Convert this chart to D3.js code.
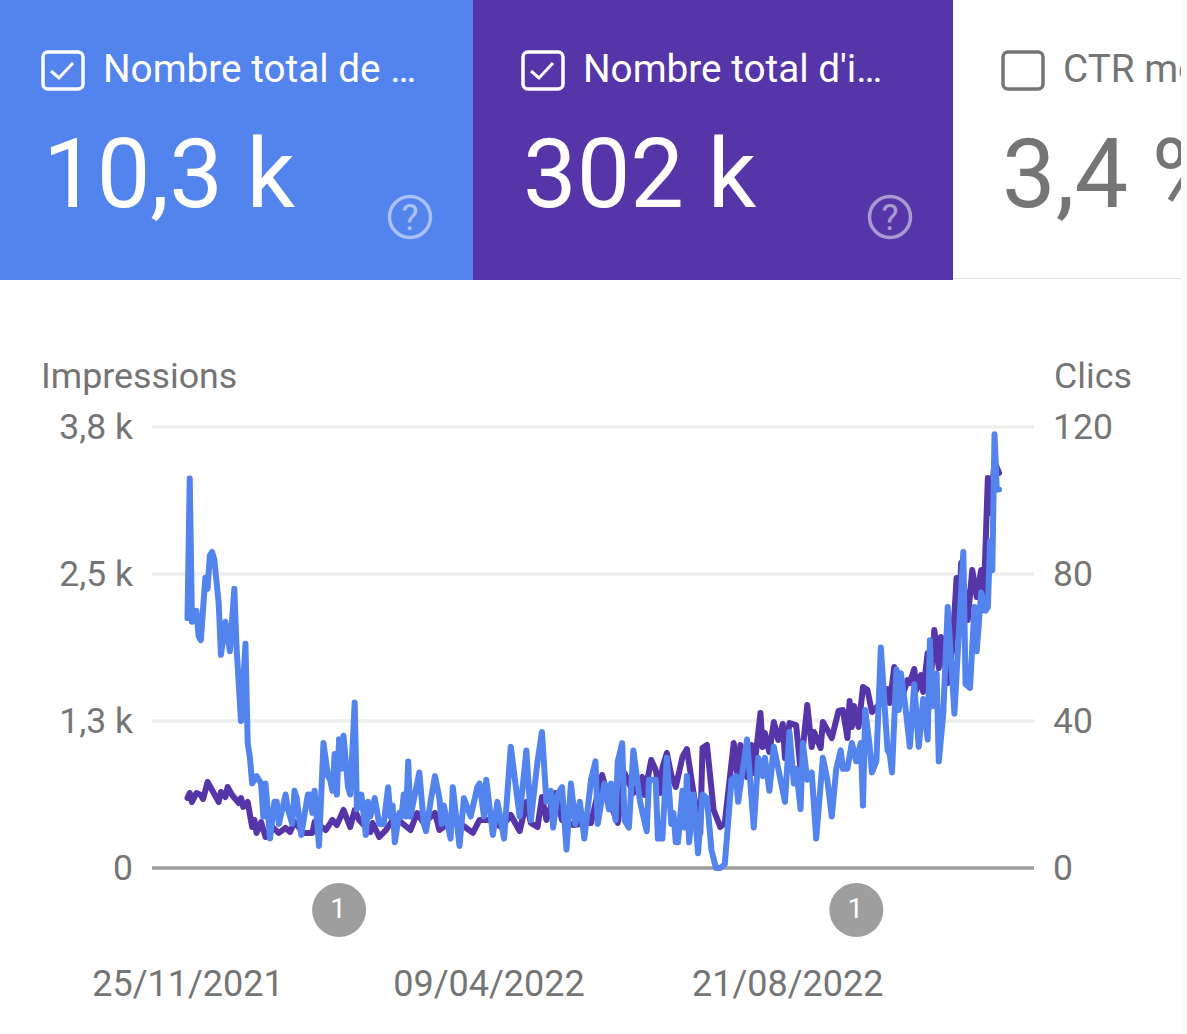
<!DOCTYPE html>
<html>
<head>
<meta charset="utf-8">
<style>
	html, body { margin: 0; padding: 0; background: #fff; overflow: hidden; }
	svg { display: block; font-family: Roboto, sans-serif; }
	.axis .domain { display: none; }
	.axis text { fill: #757575; font-size: 35.5px; font-family: Roboto, sans-serif; }
	.axis.dates text { font-size: 36px; }
</style>
<script src="https://cdnjs.cloudflare.com/ajax/libs/d3/7.8.5/d3.min.js"></script>
</head>
<body>
<div id="chart"></div>
<script>
// daily position, counted from 25/11/2021
var clickDays = [0,1,2,4,5,6,8,9,10,11,12,14,15,17,19,21,22,24,26,27,28,29,31,33,34,35,37,39,40,41,44,45,47,48,49,51,54,55,56,57,59,61,63,64,65,66,67,68,69,70,72,73,75,76,78,80,81,82,84,86,88,90,91,92,93,95,96,97,98,99,100,102,104,106,107,109,111,113,114,115,118,119,122,124,127,130,131,133,134,137,139,142,145,149,152,154,157,159,161,163,164,166,168,170,172,174,176,178,181,183,184,187,189,190,192,193,195,196,198,200,203,206,207,210,211,213,215,217,218,219,220,222,223,224,225,227,229,231,233,235,237,239,241,244,246,247,251,254,256,258,259,261,263,265,268,270,272,273,275,276,278,280,282,285,287,289,291,293,294,296,298,300,302,303,304,306,307,309,311,314,315,316,318,319,320,322,324,326,328,330,332,333,334,336,337,339,341,343,344,346,348,349,351,353,354,356,358,359,360,361,362,363,364];
var clicks = [68,106,67,70,63,62,79,76,85,86,84,72,58,67,59,76,60,40,61,34,30,23,25,23,14,23,8,18,18,12,20,16,12,21,19,9,20,20,15,21,6,34,25,24,21,31,20,35,27,36,22,20,45,16,20,9,18,14,19,12,12,22,14,17,7,15,14,20,14,29,14,20,26,12,10,18,25,19,12,17,8,22,6,19,14,22,23,14,24,9,18,8,33,14,32,13,29,37,18,21,11,20,22,5,23,12,18,8,24,29,12,23,16,23,13,29,34,13,11,32,18,10,24,24,8,8,30,12,15,7,7,21,11,25,7,20,4,20,19,5,0,0,1,24,25,18,35,11,30,25,30,21,33,27,18,37,23,27,16,34,24,26,8,30,24,14,27,32,27,27,34,29,34,17,43,33,26,29,60,32,31,26,54,43,53,44,33,50,33,46,35,62,44,53,29,42,71,52,42,64,86,50,49,71,59,75,70,71,89,81,118,103,103];

var impressionDays = [0,1,2,4,6,7,9,11,14,15,17,18,20,23,24,25,27,29,30,31,33,35,38,41,44,46,48,52,56,57,62,65,67,70,73,75,77,82,83,86,89,93,100,103,106,111,113,116,118,122,128,131,136,139,141,145,149,152,154,157,159,161,165,168,173,179,181,186,189,193,196,200,204,205,208,210,212,213,215,217,219,222,224,227,230,231,233,236,239,241,245,247,248,251,253,254,257,258,259,261,263,265,267,268,270,273,275,278,280,281,284,285,289,292,294,296,297,298,299,301,303,305,307,311,314,315,317,319,323,324,326,327,329,330,332,333,335,337,338,341,343,345,346,347,350,352,354,356,357,359,360,362,364];
var impressions = [603,646,569,646,629,595,741,672,569,655,612,698,629,560,603,526,569,353,414,302,396,267,353,302,345,310,396,302,302,396,327,414,370,500,353,500,414,310,388,267,327,440,327,474,388,474,327,370,414,388,302,414,414,370,353,457,319,569,388,353,612,414,646,414,370,388,388,801,586,388,819,646,784,629,931,844,646,862,991,801,698,956,1025,646,302,1034,1060,500,353,388,1077,741,1060,784,1060,819,1336,1043,1163,1000,1258,1103,1241,948,1249,1232,844,1405,1043,1172,1034,1258,1120,1353,1361,1120,1439,1215,1396,1215,1560,1534,1344,1422,1542,1422,1732,1379,1620,1594,1715,1534,1663,1517,1853,1508,2051,1723,1991,1594,1879,2499,2025,2628,2137,2568,2335,2568,2223,3361,3059,3499,3404];

var impressionTicks = [0, 1267, 2533, 3800];
var impressionLabels = ['0', '1,3 k', '2,5 k', '3,8 k'];
var clickTicks = [0, 40, 80, 120];
var dateTicks = [0, 135, 269];
var dateLabels = ['25/11/2021', '09/04/2022', '21/08/2022'];
var annotationDays = [68, 300];

var blue = '#5383ec';
var purple = '#5535a8';
var grey = '#757575';

var svg = d3.select('#chart').append('svg')
	.attr('width', 1187)
	.attr('height', 1034);

var x = d3.scaleLinear().domain([0, 364]).range([187.5, 999]);
var yImpressions = d3.scaleLinear().domain([0, 3800]).range([868, 427]);
var yClicks = d3.scaleLinear().domain([0, 120]).range([868, 427]);

// cards at the top, inset is where the card's content starts
function card(left, width, inset, colour, title, value) {
	var g = svg.append('g');
	g.append('rect')
		.attr('x', left).attr('y', 0)
		.attr('width', width).attr('height', 280)
		.attr('fill', colour);
	g.append('rect')
		.attr('x', inset).attr('y', 52)
		.attr('width', 40).attr('height', 37).attr('rx', 5)
		.attr('fill', 'none').attr('stroke', '#fff').attr('stroke-width', 3.5);
	g.append('path')
		.attr('d', 'M' + (inset + 8) + ' 71l8 7l14 -15')
		.attr('fill', 'none').attr('stroke', '#fff').attr('stroke-width', 3);
	g.append('text')
		.attr('x', inset + 60).attr('y', 82)
		.attr('fill', '#fff').attr('font-size', 38.7)
		.text(title);
	g.append('text')
		.attr('x', inset).attr('y', 207)
		.attr('fill', '#fff').attr('font-size', 95.5)
		.text(value);
	g.append('circle')
		.attr('cx', inset + 367).attr('cy', 217).attr('r', 20.5)
		.attr('fill', 'none').attr('stroke', '#fff').attr('stroke-width', 3.5)
		.attr('opacity', 0.5);
	g.append('text')
		.attr('x', inset + 367).attr('y', 230)
		.attr('text-anchor', 'middle')
		.attr('fill', '#fff').attr('font-size', 36).attr('opacity', 0.5)
		.text('?');
}

card(0, 473, 43, blue, 'Nombre total de …', '10,3 k');
card(473, 480, 523, purple, "Nombre total d'i…", '302 k');

svg.append('clipPath').attr('id', 'ctr-clip')
	.append('rect').attr('x', 953).attr('y', 0).attr('width', 228).attr('height', 280);
var ctr = svg.append('g').attr('clip-path', 'url(#ctr-clip)');
ctr.append('rect')
	.attr('x', 1003).attr('y', 52)
	.attr('width', 40).attr('height', 37).attr('rx', 5)
	.attr('fill', 'none').attr('stroke', grey).attr('stroke-width', 3.5);
ctr.append('text')
	.attr('x', 1063).attr('y', 82)
	.attr('fill', grey).attr('font-size', 38.7)
	.text('CTR moyen');
ctr.append('text')
	.attr('x', 1002).attr('y', 207)
	.attr('fill', grey).attr('font-size', 95.5)
	.text('3,4 %');

svg.append('line')
	.attr('x1', 953).attr('x2', 1181).attr('y1', 278.5).attr('y2', 278.5)
	.attr('stroke', '#e0e0e0').attr('stroke-width', 1);
svg.append('rect')
	.attr('x', 1181).attr('y', 0).attr('width', 6).attr('height', 1034)
	.attr('fill', '#f8fafd');

// axis titles
svg.append('text')
	.attr('x', 41).attr('y', 388)
	.attr('fill', grey).attr('font-size', 35.8)
	.text('Impressions');
svg.append('text')
	.attr('x', 1054).attr('y', 388)
	.attr('fill', grey).attr('font-size', 35.8)
	.text('Clics');

svg.append('g')
	.attr('class', 'axis')
	.attr('transform', 'translate(152,0)')
	.call(d3.axisLeft(yImpressions)
		.tickValues(impressionTicks)
		.tickFormat(function(d, i) { return impressionLabels[i]; })
		.tickSize(0)
		.tickPadding(19));

svg.append('g')
	.attr('class', 'axis')
	.attr('transform', 'translate(1034,0)')
	.call(d3.axisRight(yClicks)
		.tickValues(clickTicks)
		.tickSize(0)
		.tickPadding(19));

svg.append('g').selectAll('line')
	.data(impressionTicks)
	.enter().append('line')
	.attr('x1', 152).attr('x2', 1034)
	.attr('y1', function(d) { return yImpressions(d); })
	.attr('y2', function(d) { return yImpressions(d); })
	.attr('stroke', function(d) { return d === 0 ? '#9e9e9e' : '#eeeeee'; })
	.attr('stroke-width', 3.5);

svg.append('g')
	.attr('class', 'axis dates')
	.attr('transform', 'translate(0,984)')
	.call(d3.axisBottom(x)
		.tickValues(dateTicks)
		.tickFormat(function(d, i) { return dateLabels[i]; })
		.tickSize(0)
		.tickPadding(0))
	.selectAll('text')
	.attr('dy', '0.32em');

// lines
var impressionLine = d3.line()
	.x(function(d, i) { return x(impressionDays[i]); })
	.y(function(d) { return yImpressions(d); });

var clickLine = d3.line()
	.x(function(d, i) { return x(clickDays[i]); })
	.y(function(d) { return yClicks(d); });

svg.append('path')
	.datum(impressions)
	.attr('d', impressionLine)
	.attr('fill', 'none')
	.attr('stroke', purple)
	.attr('stroke-width', 6)
	.attr('stroke-linejoin', 'round')
	.attr('stroke-linecap', 'round');

svg.append('path')
	.datum(clicks)
	.attr('d', clickLine)
	.attr('fill', 'none')
	.attr('stroke', blue)
	.attr('stroke-width', 6)
	.attr('stroke-linejoin', 'round')
	.attr('stroke-linecap', 'round');

// annotation badges
var badges = svg.append('g').selectAll('g')
	.data(annotationDays)
	.enter().append('g')
	.attr('transform', function(d) { return 'translate(' + x(d) + ',910)'; });

badges.append('circle')
	.attr('r', 27)
	.attr('fill', '#9e9e9e');

badges.append('text')
	.attr('y', 8)
	.attr('x', -1)
	.attr('text-anchor', 'middle')
	.attr('fill', '#fff')
	.attr('font-size', 28)
	.text('1');
</script>
</body>
</html>
